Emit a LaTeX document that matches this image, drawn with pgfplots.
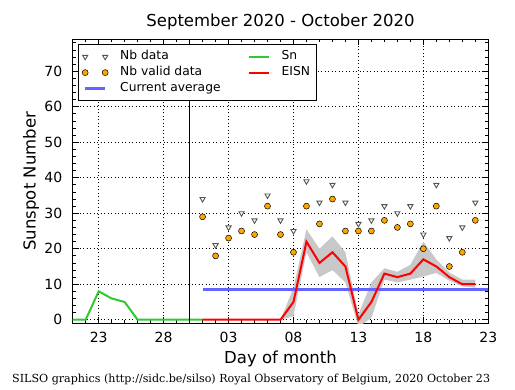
\documentclass[border=0pt]{standalone}
\usepackage{fontspec}
\setmainfont{DejaVu Sans}
\newfontfamily\serifft{DejaVu Serif}
\usepackage{pgfplots}
\pgfplotsset{compat=1.18}
\definecolor{snGreen}{RGB}{50,200,50}
\definecolor{avgBlue}{RGB}{100,100,255}
\definecolor{bandGray}{RGB}{200,200,200}
\definecolor{dotOrange}{RGB}{255,165,0}
\definecolor{triGray}{RGB}{85,85,85}
\pgfplotsset{
  twomarks legend/.style={legend image code/.code={\draw[only marks,##1] plot coordinates {(0pt,0pt) (20pt,0pt)};}},
  shortline legend/.style={legend image code/.code={\draw[##1] (0pt,0pt) -- (20pt,0pt);}},
}
\begin{document}
\begin{tikzpicture}
\path[use as bounding box] (0,0) rectangle (515pt,390pt);
\begin{axis}[
  at={(72.7pt,66.7pt)}, anchor=south west,
  width=415.6pt, height=284pt, scale only axis,
  xmin=21, xmax=53, ymin=-1, ymax=79,
  xtick={23,28,33,38,43,48,53}, xticklabels={23,28,03,08,13,18,23},
  minor xtick={21,22,...,53},
  ytick={0,10,...,70}, minor ytick={0,2,...,78},
  tick align=inside,
  major tick length=6pt, minor tick length=3pt,
  tick style={black, line width=0.8pt},
  grid=major, major grid style={black, line width=0.5pt, dash pattern=on 1pt off 2.5pt},
  axis line style={line width=1pt},
  ticklabel style={font=\fontsize{14}{16}\selectfont},
  /pgf/number format/assume math mode=true,
  xticklabel style={anchor=base, yshift=-19pt},
  yticklabel style={anchor=east, xshift=-7pt},
  title={September 2020 - October 2020},
  title style={font=\fontsize{16.5}{18}\selectfont, at={(rel axis cs:0.5,1)}, anchor=base, yshift=7pt},
  xlabel={Day of month},
  xlabel style={font=\fontsize{16.5}{18}\selectfont, at={(rel axis cs:0.5,0)}, anchor=base, yshift=-40pt},
  ylabel={Sunspot Number},
  ylabel style={font=\fontsize{16.5}{18}\selectfont, at={([xshift=-41.7pt]rel axis cs:0,0.5)}, anchor=center},
  legend columns=2, legend cell align=left,
  legend style={at={(rel axis cs:0.012,0.982)}, anchor=north west, draw=black, line width=1pt,
    font=\fontsize{12.3}{14}\selectfont, inner sep=4pt, row sep=0pt,
    nodes={inner sep=2pt, text height=8.8pt, text depth=3pt},
    /tikz/every odd column/.append style={column sep=10pt},
    /tikz/every even column/.append style={column sep=25pt}},
]
% uncertainty band of EISN
\addplot[draw=none, fill=bandGray, forget plot] coordinates {
 (31,0) (32,0) (33,0) (34,0) (35,0) (36,0) (37,0) (38,9) (39,25.5) (40,20) (41,23.5) (42,19)
 (43,1.5) (44,10.5) (45,14.5) (46,13.5) (47,15.5) (48,22) (49,17) (50,13.3) (51,11.3) (52,11.3)
 (52,9) (51,9.4) (50,11) (49,13.2) (48,12.2) (47,11.3) (46,10.5) (45,11.3) (44,0.5) (43,-2)
 (42,10.5) (41,14) (40,12) (39,19) (38,1) (37,0) (36,0) (35,0) (34,0) (33,0) (32,0) (31,0)} -- cycle;
% current average
\addplot[avgBlue, line width=3pt, forget plot] coordinates {(31,8.5) (53,8.5)};
% Sn
\addplot[snGreen, line width=2pt, forget plot] coordinates {
 (21,0) (22,0) (23,8) (24,6) (25,5) (26,0) (27,0) (28,0) (29,0) (30,0) (31,0)};
% month boundary
\addplot[black, line width=1pt, forget plot] coordinates {(30,-1) (30,79)};
% EISN
\addplot[red, line width=2pt, forget plot] coordinates {
 (31,0) (32,0) (33,0) (34,0) (35,0) (36,0) (37,0) (38,5) (39,22) (40,16) (41,19) (42,15)
 (43,0) (44,5) (45,13) (46,12) (47,13) (48,17) (49,15) (50,12) (51,10) (52,10)};
% Nb data
\addplot[only marks, mark=triangle*, mark size=3pt,
  mark options={rotate=180, draw=triGray, fill=white, line width=0.9pt}, twomarks legend]
 coordinates {
 (31,34) (32,21) (33,26) (34,30) (35,28) (36,35) (37,28) (38,25) (39,39) (40,33) (41,38)
 (42,33) (43,27) (44,28) (45,32) (46,30) (47,32) (48,24) (49,38) (50,23) (51,26) (52,33)};
\addlegendentry{Nb data}
\addlegendimage{snGreen, line width=2pt, shortline legend}
\addlegendentry{Sn}
% Nb valid data
\addplot[only marks, mark=*, mark size=3pt,
  mark options={draw=black, fill=dotOrange, line width=0.5pt}, twomarks legend]
 coordinates {
 (31,29) (32,18) (33,23) (34,25) (35,24) (36,32) (37,24) (38,19) (39,32) (40,27) (41,34)
 (42,25) (43,25) (44,25) (45,28) (46,26) (47,27) (48,20) (49,32) (50,15) (51,19) (52,28)};
\addlegendentry{Nb valid data}
\addlegendimage{red, line width=2pt, shortline legend}
\addlegendentry{EISN}
\addlegendimage{avgBlue, line width=3pt, shortline legend}
\addlegendentry{Current average}
\end{axis}
\node[anchor=base west, font=\serifft\fontsize{11.1}{13}\selectfont, inner sep=0pt] at (12pt,7pt)
 {SILSO graphics (http://sidc.be/silso) Royal Observatory of Belgium, 2020 October 23};
\end{tikzpicture}
\end{document}
